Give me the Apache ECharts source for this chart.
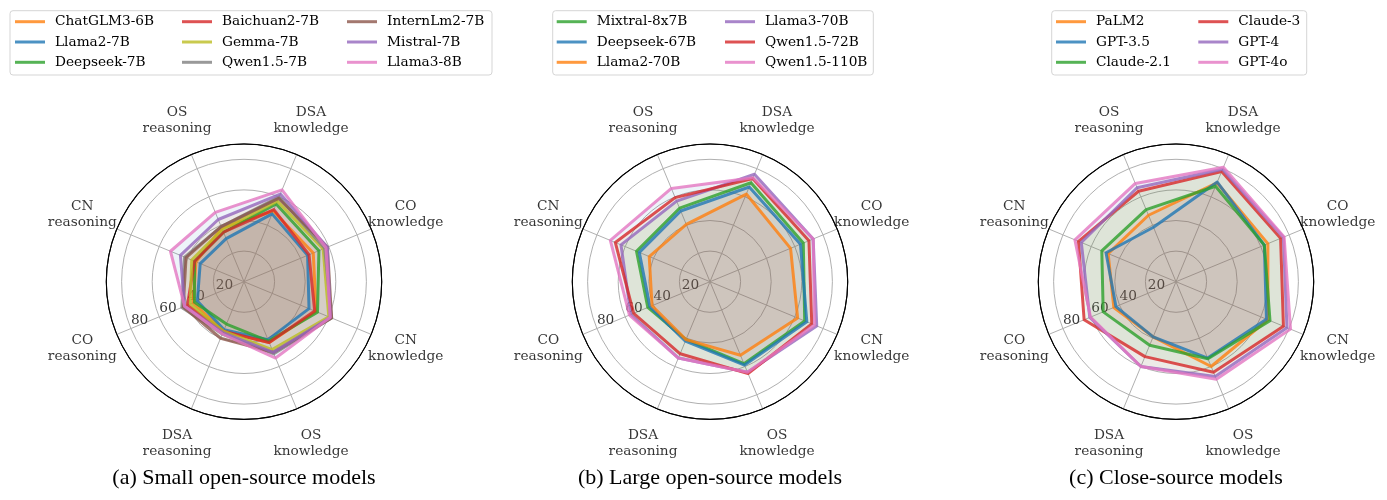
<!DOCTYPE html>
<html><head><meta charset="utf-8">
<script src="https://cdn.jsdelivr.net/npm/echarts@6/dist/echarts.min.js"></script>
<style>html,body{margin:0;padding:0;background:#fff}#c{width:1387px;height:500px}</style>
</head><body><div id="c"></div>
<script>
// ---------- data ----------
const axisNames = ['DSA\nknowledge','CO\nknowledge','CN\nknowledge','OS\nknowledge','DSA\nreasoning','CO\nreasoning','CN\nreasoning','OS\nreasoning'];
const radialTicks = [20, 40, 60, 80];
const captions = ['(a) Small open-source models', '(b) Large open-source models', '(c) Close-source models'];

const smallModels = ['ChatGLM3-6B','Llama2-7B','Deepseek-7B','Baichuan2-7B','Gemma-7B','Qwen1.5-7B','InternLm2-7B','Mistral-7B','Llama3-8B'];
// order of values: DSA k, CO k, CN k, OS k, DSA r, CO r, CN r, OS r
const smallValues = [
  [50, 49, 51, 43, 35, 36, 34, 38],
  [48, 45, 46, 41, 34, 33, 31, 30.5],
  [55, 53, 52, 42, 30, 35, 35, 35],
  [51, 46, 50, 43, 35, 40, 35, 35],
  [57, 56, 60, 48, 35, 38, 37, 37],
  [60, 57, 62, 51, 37, 44, 42, 39],
  [59, 59, 62, 50, 40, 43, 41, 39],
  [62, 59, 61, 50, 36, 42, 45, 44],
  [65, 58, 61, 54, 37, 42, 52, 49]
];

const largeModels = ['Mixtral-8x7B','Deepseek-67B','Llama2-70B','Llama3-70B','Qwen1.5-72B','Qwen1.5-110B'];
const largeValues = [
  [70, 66, 67, 58, 41, 44, 52, 52],
  [67, 64, 68.5, 59, 42, 42.5, 50, 50],
  [62, 57, 62, 52, 41, 41, 43, 40.5],
  [76, 73, 75.5, 64, 54, 56, 63, 57],
  [73, 70, 72, 65, 51, 54, 67, 59.5],
  [73.5, 73, 74, 64, 54, 57, 70.5, 66]
];

const closeModels = ['PaLM2','GPT-3.5','Claude-2.1','Claude-3','GPT-4','GPT-4o'];
const closeValues = [
  [70, 65, 65, 60, 39, 44, 48, 47],
  [70.5, 62.5, 64, 54, 39, 42.5, 49.5, 38.5],
  [67.5, 62.5, 66.5, 54.5, 45, 51.5, 52.5, 51],
  [78, 74, 76, 64, 53, 65, 69, 64],
  [79.5, 76, 78.5, 67, 60, 61, 67, 66.5],
  [81, 76.5, 81, 69, 60, 60.5, 71.5, 69.5]
];

// ---------- styles ----------
const tab = {blue:'31,119,180', orange:'255,127,14', green:'44,160,44', red:'214,39,40', purple:'148,103,189',
             brown:'140,86,75', pink:'227,119,194', gray:'127,127,127', olive:'188,189,34'};
const smallColors = ['orange','blue','green','red','olive','gray','brown','purple','pink'];
const largeColors = ['green','blue','orange','purple','red','pink'];
const closeColors = ['orange','blue','green','red','purple','pink'];
const fillCycle = ['blue','orange','green','red','purple','brown','pink','gray','olive'];

const FONT = 'DejaVu Serif';
const FS = 13.7;
const R_PX = 137.7, CY = 281.7, RMAX = 90;
const NAME_R = 114.4;
const FILL_ALPHA = 0.08;

const panels = [
  {models: smallModels, values: smallValues, colors: smallColors, cx: 244,
   cols: [15, 182, 347], box: [10, 10.7, 482, 64.3]},
  {models: largeModels, values: largeValues, colors: largeColors, cx: 710,
   cols: [556.7, 725], box: [552.7, 10.7, 320.6, 64.3]},
  {models: closeModels, values: closeValues, colors: closeColors, cx: 1176,
   cols: [1056, 1198.3], box: [1051.7, 10.7, 255, 64.3]}
];

// angle value (clockwise from CO reasoning at startAngle 202.5) for indicator j
function angleOf(j) { return ((j + 3) % 8) * 45; }
function polygon(vals) {
  const pts = [];
  for (let i = 0; i <= 8; i++) { const j = (i + 5) % 8; pts.push([vals[j], i * 45]); }
  return pts;
}

const polar = [], angleAxis = [], radiusAxis = [], series = [], legend = [], graphic = [];
panels.forEach((p, k) => {
  polar.push({center: [p.cx, CY], radius: R_PX});
  angleAxis.push({
    polarIndex: k, type: 'value', min: 0, max: 360, interval: 45, startAngle: 202.5, clockwise: true,
    axisLine: {show: true, lineStyle: {color: '#000', width: 1.1}},
    axisTick: {show: false}, axisLabel: {show: false},
    splitLine: {show: true, lineStyle: {color: '#b0b0b0', width: 1}}
  });
  radiusAxis.push({
    polarIndex: k, type: 'value', min: 0, max: RMAX, interval: 20,
    axisLine: {show: false}, axisTick: {show: false}, axisLabel: {show: false},
    splitLine: {show: true, lineStyle: {color: ['#b0b0b0','#b0b0b0','#b0b0b0','#b0b0b0','#b0b0b0','#000'], width: 1}}
  });
  // radial tick labels along the CO-reasoning spoke
  series.push({
    type: 'scatter', coordinateSystem: 'polar', polarIndex: k, symbolSize: 0, silent: true, clip: false,
    data: radialTicks.map(t => ({name: String(t), value: [t, 0]})),
    label: {show: true, position: 'inside', offset: [8.7, -8.4], formatter: q => q.name,
            fontFamily: FONT, fontSize: FS, color: '#000', align: 'center', verticalAlign: 'middle'},
    z: 2
  });
  const n = p.models.length;
  p.models.forEach((m, i) => {
    const rgb = tab[p.colors[i]];
    const frgb = tab[fillCycle[n - 1 - i]];
    series.push({
      type: 'line', name: m, coordinateSystem: 'polar', polarIndex: k,
      data: polygon(p.values[i]), showSymbol: false, symbol: 'none', silent: true,
      color: 'rgba(' + rgb + ',0.8)',
      lineStyle: {width: 3, color: 'rgba(' + rgb + ',0.8)', join: 'round', cap: 'round'},
      areaStyle: {color: 'rgb(' + frgb + ')', opacity: FILL_ALPHA},
      z: 3
    });
  });
  series.push({
    type: 'scatter', coordinateSystem: 'polar', polarIndex: k, symbolSize: 0, silent: true, clip: false,
    data: axisNames.map((nm, j) => ({name: nm, value: [NAME_R, angleOf(j)]})),
    label: {show: true, position: 'inside', formatter: q => q.name, fontFamily: FONT, fontSize: FS,
            lineHeight: 16, color: '#000', align: 'center', verticalAlign: 'middle'},
    z: 5
  });
  // legend columns (column-major, 3 rows)
  p.cols.forEach((x, c) => {
    legend.push({
      left: x, top: 11.55, orient: 'vertical', padding: 0, itemGap: 0,
      data: p.models.slice(c * 3, c * 3 + 3), icon: 'rect', itemWidth: 30, itemHeight: 3,
      itemStyle: {borderWidth: 0}, selectedMode: false,
      textStyle: {fontFamily: FONT, fontSize: FS, color: '#000', lineHeight: 20.3, padding: [0, 0, 0, 5]},
      z: 10
    });
  });
  graphic.push({type: 'rect', z: 1, silent: true,
    shape: {x: p.box[0], y: p.box[1], width: p.box[2], height: p.box[3], r: 3},
    style: {fill: '#fff', stroke: '#d5d5d5', lineWidth: 1}});
  graphic.push({type: 'text', z: 10, silent: true, x: p.cx, y: 478,
    style: {text: captions[k], font: '22px "Liberation Serif"', fill: '#000', align: 'center', verticalAlign: 'middle'}});
});

const chart = echarts.init(document.getElementById('c'), null, {renderer: 'canvas'});
chart.setOption({
  animation: false, backgroundColor: '#fff',
  polar, angleAxis, radiusAxis, series, legend, graphic, tooltip: {show: false}
});
</script></body></html>
